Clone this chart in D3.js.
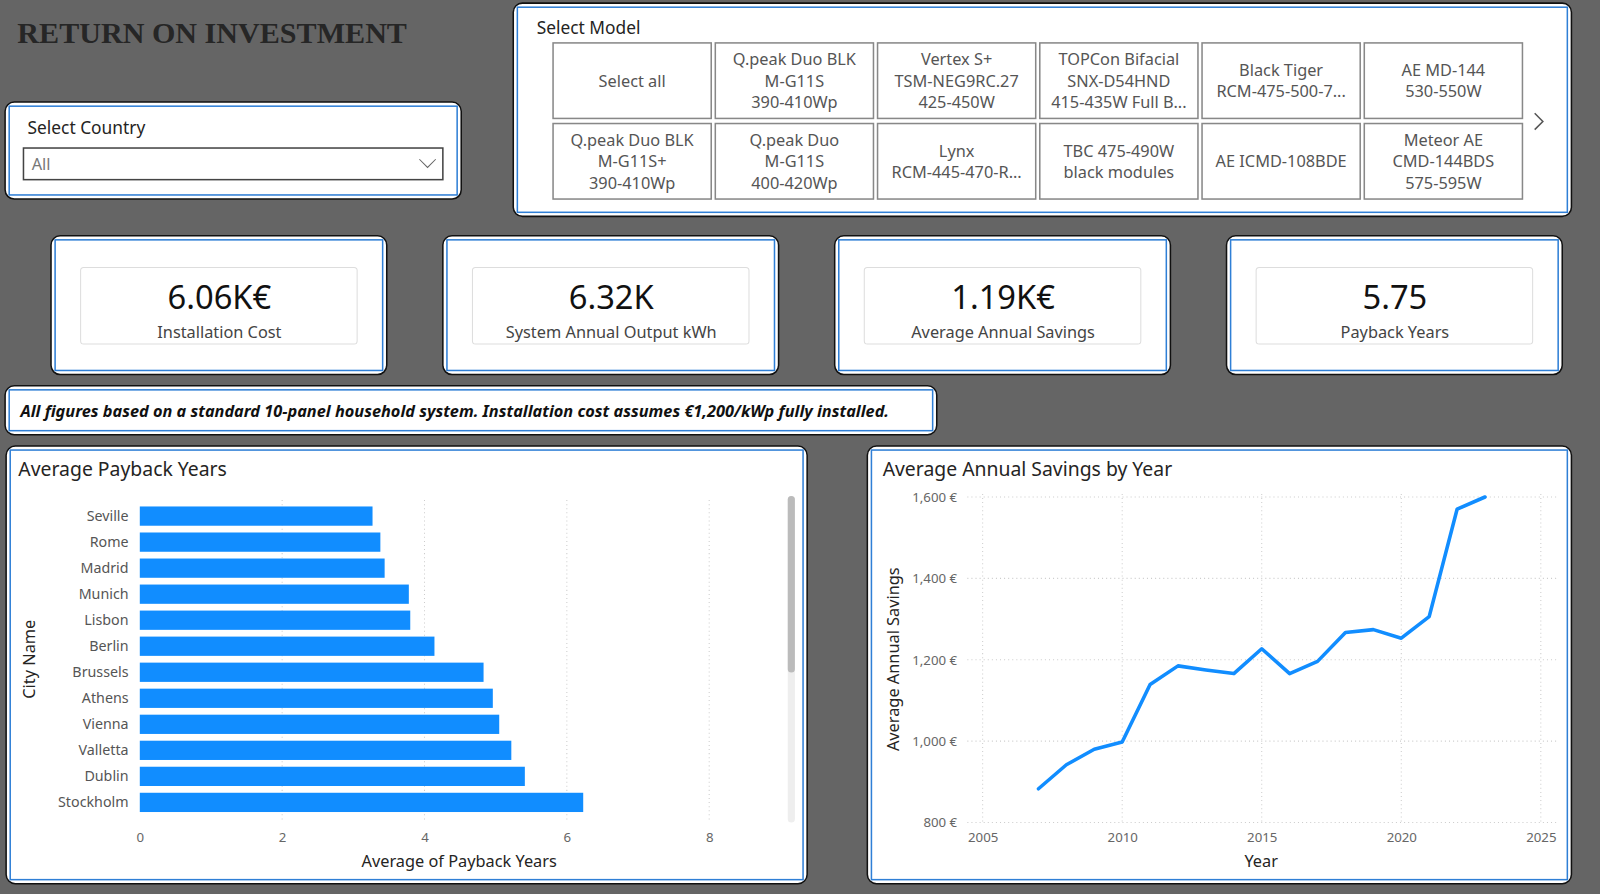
<!DOCTYPE html>
<html>
<head>
<meta charset="utf-8">
<title>roi</title>
<script src="https://d3js.org/d3.v7.min.js"></script>
<style>body{margin:0;background:#656565}</style>
</head>
<body>
<svg width="1600" height="894" viewBox="0 0 1568 876"></svg>
<script>
var cities = ["Seville","Rome","Madrid","Munich","Lisbon","Berlin","Brussels","Athens","Vienna","Valletta","Dublin","Stockholm"];
var payback = [3.27,3.38,3.44,3.78,3.80,4.14,4.83,4.96,5.05,5.22,5.41,6.23];
var years = [2007,2008,2009,2010,2011,2012,2013,2014,2015,2016,2017,2018,2019,2020,2021,2022,2023];
var savings = [883,942,980,998,1139,1185,1175,1166,1227,1166,1196,1267,1274,1253,1306,1570,1600];
var models = [["Select all"],["Q.peak Duo BLK","M-G11S","390-410Wp"],["Vertex S+","TSM-NEG9RC.27","425-450W"],
  ["TOPCon Bifacial","SNX-D54HND","415-435W Full B..."],["Black Tiger","RCM-475-500-7..."],["AE MD-144","530-550W"],
  ["Q.peak Duo BLK","M-G11S+","390-410Wp"],["Q.peak Duo","M-G11S","400-420Wp"],["Lynx","RCM-445-470-R..."],
  ["TBC 475-490W","black modules"],["AE ICMD-108BDE"],["Meteor AE","CMD-144BDS","575-595W"]];
var kpiValues = ["6.06K€","6.32K","1.19K€","5.75"];
var kpiLabels = ["Installation Cost","System Annual Output kWh","Average Annual Savings","Payback Years"];

var svg = d3.select("svg");
var font = "'Noto Sans', 'Open Sans', sans-serif";
svg.append("rect").attr("width",1568).attr("height",876).attr("fill","#656565");

function panel(x,y,w,h){
  svg.append("rect").attr("x",x).attr("y",y).attr("width",w).attr("height",h).attr("rx",9)
    .attr("fill","#fff").attr("stroke","#111").attr("stroke-width",1.5);
  svg.append("rect").attr("x",x+4).attr("y",y+4).attr("width",w-8).attr("height",h-8)
    .attr("fill","none").attr("stroke","#2f7fd6").attr("stroke-width",1.5);
}
function text(x,y,t,size,opts){
  opts = opts || {};
  return svg.append("text").attr("x",x).attr("y",y).text(t).attr("font-size",size)
    .attr("font-family",opts.family || font).attr("fill",opts.fill || "#252423")
    .attr("text-anchor",opts.anchor || "start").attr("font-weight",opts.weight || "normal")
    .attr("font-style",opts.style || "normal");
}

text(17,42,"RETURN ON INVESTMENT",29.5,{family:"'Liberation Serif', serif",weight:"bold",fill:"#262626"});

// country slicer
panel(5,100,447,95);
text(27,131,"Select Country",17);
svg.append("rect").attr("x",23).attr("y",145).attr("width",411).attr("height",31).attr("fill","#fff").attr("stroke","#444").attr("stroke-width",1.5);
text(31,167,"All",16,{fill:"#777"});
svg.append("path").attr("d","M411,156 L419,164 L427,156").attr("fill","none").attr("stroke","#666");

// model slicer
panel(503,3,1037,209);
text(526,33,"Select Model",17);
models.forEach(function(m,i){
  var cx = 542 + (i%6)*159, cy = 42 + Math.floor(i/6)*79;
  svg.append("rect").attr("x",cx).attr("y",cy).attr("width",155).attr("height",74).attr("fill","#fff").attr("stroke","#888").attr("stroke-width",1.5);
  m.forEach(function(line,j){
    text(cx+77.5, cy+37+ (j-(m.length-1)/2)*21 + 6, line, 16, {anchor:"middle",fill:"#555"});
  });
});
svg.append("path").attr("d","M1504,111 L1512,119 L1504,127").attr("fill","none").attr("stroke","#555").attr("stroke-width",1.5);

// KPI cards
kpiValues.forEach(function(v,i){
  var x = 50 + i*384;
  panel(x,231,329,136);
  svg.append("rect").attr("x",x+29).attr("y",262).attr("width",271).attr("height",75).attr("rx",3).attr("fill","#fff").attr("stroke","#ddd");
  text(x+165,303,v,32,{anchor:"middle",fill:"#111"});
  text(x+165,331,kpiLabels[i],16,{anchor:"middle",fill:"#444"});
});

// note
panel(5,378,913,48);
text(20,409,"All figures based on a standard 10-panel household system. Installation cost assumes €1,200/kWp fully installed.",16,{weight:"bold",style:"italic",fill:"#111"});

// bar chart
panel(6,437,785,429);
text(18,466,"Average Payback Years",19);
var x = d3.scaleLinear().domain([0,8]).range([137,695]);
var y = d3.scaleBand().domain(cities).range([495,797]).paddingInner(0.26).paddingOuter(0.05);
var gx = svg.append("g").attr("transform","translate(0,810)")
  .call(d3.axisBottom(x).tickValues([0,2,4,6,8]).tickSize(0).tickPadding(6));
gx.select(".domain").remove();
gx.selectAll("text").attr("font-size",13).attr("fill","#666").attr("font-family",font);
svg.append("g").selectAll("line").data([2,4,6,8]).join("line")
  .attr("x1",d=>x(d)).attr("x2",d=>x(d)).attr("y1",490).attr("y2",805)
  .attr("stroke","#ccc").attr("stroke-dasharray","1,3");
svg.append("g").selectAll("rect").data(cities).join("rect")
  .attr("x",x(0)).attr("y",d=>y(d)).attr("height",y.bandwidth())
  .attr("width",(d,i)=>x(payback[i])-x(0)).attr("fill","#118dff");
var gy = svg.append("g").attr("transform","translate(130,0)").call(d3.axisLeft(y).tickSize(0).tickPadding(4));
gy.select(".domain").remove();
gy.selectAll("text").attr("font-size",14).attr("fill","#555").attr("font-family",font);
text(450,850,"Average of Payback Years",16,{anchor:"middle"});
text(0,0,"City Name",16,{anchor:"middle"}).attr("transform","translate(34,646) rotate(-90)");
svg.append("rect").attr("x",772).attr("y",486).attr("width",7).attr("height",320).attr("rx",3.5).attr("fill","#eee");
svg.append("rect").attr("x",772).attr("y",486).attr("width",7).attr("height",173).attr("rx",3.5).attr("fill","#bbb");

// line chart
panel(850,437,690,429);
text(865,466,"Average Annual Savings by Year",19);
var lx = d3.scaleLinear().domain([2005,2025]).range([963,1510]);
var ly = d3.scaleLinear().domain([800,1600]).range([806,487]);
svg.append("g").selectAll("line").data([800,1000,1200,1400,1600]).join("line")
  .attr("x1",948).attr("x2",1525).attr("y1",d=>ly(d)).attr("y2",d=>ly(d))
  .attr("stroke","#ccc").attr("stroke-dasharray","1,3");
svg.append("g").selectAll("line").data([2005,2010,2015,2020,2025]).join("line")
  .attr("x1",d=>lx(d)).attr("x2",d=>lx(d)).attr("y1",484).attr("y2",806)
  .attr("stroke","#ccc").attr("stroke-dasharray","1,3");
var lgx = svg.append("g").attr("transform","translate(0,810)")
  .call(d3.axisBottom(lx).tickValues([2005,2010,2015,2020,2025]).tickFormat(d3.format("d")).tickSize(0).tickPadding(6));
lgx.select(".domain").remove();
lgx.selectAll("text").attr("font-size",13).attr("fill","#666").attr("font-family",font);
var lgy = svg.append("g").attr("transform","translate(942,0)")
  .call(d3.axisLeft(ly).tickValues([800,1000,1200,1400,1600]).tickFormat(d=>d3.format(",")(d)+" €").tickSize(0).tickPadding(4));
lgy.select(".domain").remove();
lgy.selectAll("text").attr("font-size",13).attr("fill","#666").attr("font-family",font);
svg.append("path").datum(years)
  .attr("d",d3.line().x(d=>lx(d)).y((d,i)=>ly(savings[i])))
  .attr("fill","none").attr("stroke","#118dff").attr("stroke-width",3.5).attr("stroke-linejoin","round").attr("stroke-linecap","round");
text(1236,850,"Year",16,{anchor:"middle"});
text(0,0,"Average Annual Savings",16,{anchor:"middle"}).attr("transform","translate(881,646) rotate(-90)");
</script>
</body>
</html>
